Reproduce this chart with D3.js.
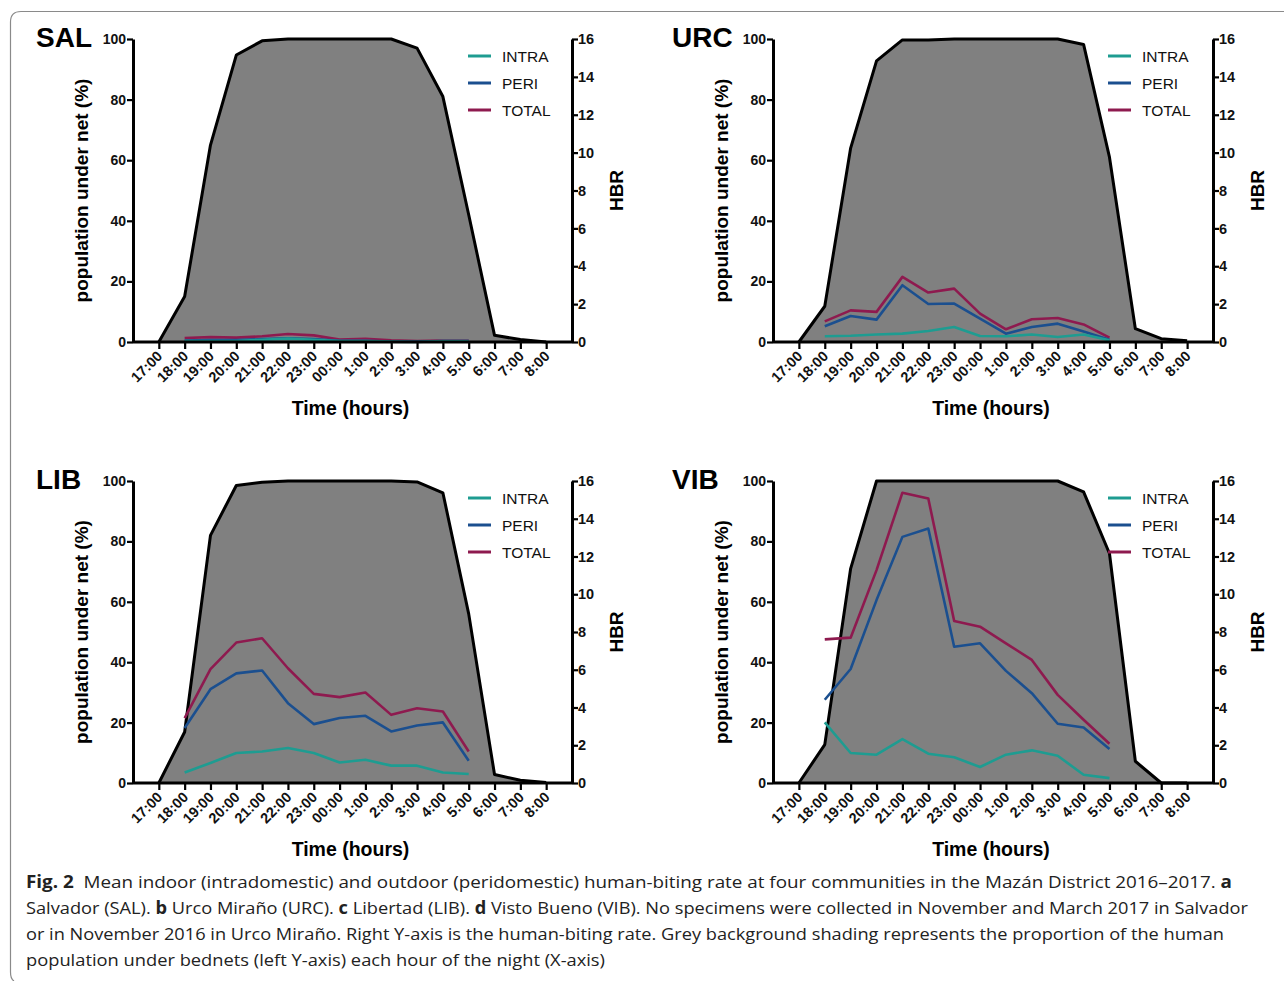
<!DOCTYPE html>
<html>
<head>
<meta charset="utf-8">
<script src="https://cdn.jsdelivr.net/npm/d3@7"></script>
<style>
  body { margin: 0; background: #fff; }
  svg { display: block; }
</style>
</head>
<body>
<svg width="1284" height="981"></svg>
<script>
// Hour labels on the x axis (17:00 -> 8:00)
const hours = ["17:00","18:00","19:00","20:00","21:00","22:00","23:00","00:00",
               "1:00","2:00","3:00","4:00","5:00","6:00","7:00","8:00"];

// population under net (%) for each hour
const netSAL = [0, 15, 65, 94.7, 99.4, 100, 100, 100, 100, 100, 97, 81, 42, 2.2, 0.8, 0];
const netURC = [0, 11.8, 64, 92.8, 99.7, 99.7, 100, 100, 100, 100, 100, 98.2, 61, 4.4, 1.1, 0.4];
const netLIB = [0, 16.9, 82, 98.5, 99.6, 100, 100, 100, 100, 100, 99.7, 96.1, 56, 2.8, 0.9, 0.2];
const netVIB = [0, 12.7, 71, 100, 100, 100, 100, 100, 100, 100, 100, 96.4, 76, 7.2, 0, 0];

// human-biting rate, 18:00 -> 5:00
const intraSAL = [0.05, 0.05, 0.05, 0.12, 0.18, 0.12, 0.05, 0.05, 0.02, 0.0, 0.05, 0.05];
const periSAL  = [0.08, 0.1, 0.1, 0.15, 0.2, 0.15, 0.06, 0.06, 0.03, 0.02, 0.05, 0.05];
const totalSAL = [0.21, 0.26, 0.23, 0.3, 0.42, 0.35, 0.13, 0.17, 0.09, 0.05, 0.07, 0.07];

const intraURC = [0.3, 0.33, 0.4, 0.44, 0.58, 0.79, 0.32, 0.3, 0.4, 0.26, 0.4, 0.09];
const periURC  = [0.83, 1.37, 1.18, 3.0, 2.01, 2.03, 1.23, 0.44, 0.79, 0.97, 0.56, 0.12];
const totalURC = [1.09, 1.67, 1.59, 3.44, 2.61, 2.82, 1.5, 0.67, 1.2, 1.27, 0.93, 0.23];

const intraLIB = [0.56, 1.06, 1.59, 1.67, 1.85, 1.59, 1.09, 1.23, 0.92, 0.92, 0.56, 0.48];
const periLIB  = [2.91, 4.97, 5.81, 5.96, 4.23, 3.12, 3.44, 3.56, 2.73, 3.05, 3.21, 1.18];
const totalLIB = [3.44, 6.03, 7.44, 7.67, 6.08, 4.72, 4.55, 4.79, 3.61, 3.96, 3.79, 1.67];

const intraVIB = [3.21, 1.59, 1.5, 2.33, 1.55, 1.36, 0.85, 1.5, 1.73, 1.44, 0.44, 0.26];
const periVIB  = [4.41, 6.04, 9.69, 13.04, 13.48, 7.22, 7.4, 5.94, 4.76, 3.14, 2.94, 1.8];
const totalVIB = [7.61, 7.7, 11.28, 15.38, 15.07, 8.58, 8.28, 7.4, 6.52, 4.67, 3.35, 2.08];

const seriesNames = ["INTRA", "PERI", "TOTAL"];
const seriesColors = {INTRA: "#1e9c91", PERI: "#1b4f8f", TOTAL: "#8e1a4f"};

const panels = [
  {name: "SAL", titleX: 36,  left: 133, right: 572, top: 39, bottom: 342, net: netSAL, intra: intraSAL, peri: periSAL, total: totalSAL},
  {name: "URC", titleX: 672, left: 773, right: 1213, top: 39, bottom: 342, net: netURC, intra: intraURC, peri: periURC, total: totalURC},
  {name: "LIB", titleX: 36,  left: 133, right: 572, top: 481, bottom: 783, net: netLIB, intra: intraLIB, peri: periLIB, total: totalLIB},
  {name: "VIB", titleX: 672, left: 773, right: 1213, top: 481, bottom: 783, net: netVIB, intra: intraVIB, peri: periVIB, total: totalVIB}
];

const svg = d3.select("svg");
const font = "'Liberation Sans', Arial, sans-serif";

// frame around the figure
svg.append("path")
   .attr("d", "M1284,11.5 L21,11.5 Q10.5,11.5 10.5,22 L10.5,972 Q10.5,979 14,981")
   .attr("fill", "none")
   .attr("stroke", "#8a8a8a")
   .attr("stroke-width", 1.2);

panels.forEach(p => {
  const g = svg.append("g");

  const x = d3.scaleLinear().domain([-1, 16]).range([p.left, p.right]);
  const yNet = d3.scaleLinear().domain([0, 100]).range([p.bottom, p.top]);
  const yHbr = d3.scaleLinear().domain([0, 16]).range([p.bottom, p.top]);

  // grey bednet area
  const area = d3.area()
                 .x((d, i) => x(i))
                 .y0(p.bottom)
                 .y1(d => yNet(d));
  g.append("path")
   .datum(p.net)
   .attr("d", area)
   .attr("fill", "#808080");
  const topLine = d3.line().x((d, i) => x(i)).y(d => yNet(d));
  g.append("path")
   .datum(p.net)
   .attr("d", topLine)
   .attr("fill", "none")
   .attr("stroke", "#000")
   .attr("stroke-width", 3)
   .attr("stroke-linejoin", "round");

  // HBR lines
  const line = d3.line().x((d, i) => x(i + 1)).y(d => yHbr(d));
  [["TOTAL", p.total], ["PERI", p.peri], ["INTRA", p.intra]].forEach(([key, vals]) => {
    g.append("path")
     .datum(vals)
     .attr("d", line)
     .attr("fill", "none")
     .attr("stroke", seriesColors[key])
     .attr("stroke-width", 2.6)
     .attr("stroke-linejoin", "round");
  });

  // axes
  const xAxis = d3.axisBottom(x)
                  .tickValues(d3.range(0, 16))
                  .tickFormat(i => hours[i])
                  .tickSize(7)
                  .tickSizeOuter(0);
  const gx = g.append("g")
              .attr("transform", `translate(0,${p.bottom})`)
              .call(xAxis);
  gx.select(".domain").attr("stroke-width", 3).attr("d", `M${p.left},0H${p.right}`);
  gx.selectAll(".tick line").attr("stroke-width", 2.2);
  gx.selectAll(".tick text")
    .attr("font-family", font)
    .attr("font-weight", "bold")
    .attr("font-size", 14.5)
    .attr("fill", "#111")
    .attr("text-anchor", "end")
    .attr("dy", null)
    .attr("y", 0)
    .attr("transform", "translate(4,15) rotate(-45)");

  const yAxisL = d3.axisLeft(yNet).tickValues([0, 20, 40, 60, 80, 100]).tickSize(6).tickSizeOuter(0);
  const gyl = g.append("g").attr("transform", `translate(${p.left},0)`).call(yAxisL);
  gyl.select(".domain").attr("stroke-width", 3);
  gyl.selectAll(".tick line").attr("stroke-width", 2.2);
  gyl.selectAll(".tick text")
     .attr("font-family", font).attr("font-weight", "bold").attr("font-size", 14).attr("fill", "#111")
     .attr("x", -7);

  const yAxisR = d3.axisRight(yHbr).tickValues(d3.range(0, 17, 2)).tickSize(6).tickSizeOuter(0);
  const gyr = g.append("g").attr("transform", `translate(${p.right},0)`).call(yAxisR);
  gyr.select(".domain").attr("stroke-width", 3);
  gyr.selectAll(".tick line").attr("stroke-width", 2.2);
  gyr.selectAll(".tick text")
     .attr("font-family", font).attr("font-weight", "bold").attr("font-size", 14.5).attr("fill", "#111")
     .attr("x", 6);

  // panel title
  g.append("text")
   .attr("x", p.titleX)
   .attr("y", p.top + 8)
   .attr("font-family", font)
   .attr("font-weight", "bold")
   .attr("font-size", 28)
   .text(p.name);

  // axis titles
  const midY = (p.top + p.bottom) / 2;
  g.append("text")
   .attr("transform", `translate(${p.left - 45},${midY}) rotate(-90)`)
   .attr("text-anchor", "middle")
   .attr("font-family", font)
   .attr("font-weight", "bold")
   .attr("font-size", 19)
   .text("population under net (%)");
  g.append("text")
   .attr("transform", `translate(${p.right + 51},${midY}) rotate(-90)`)
   .attr("text-anchor", "middle")
   .attr("font-family", font)
   .attr("font-weight", "bold")
   .attr("font-size", 19)
   .text("HBR");
  g.append("text")
   .attr("x", (p.left + p.right) / 2 - 2)
   .attr("y", p.bottom + 73)
   .attr("text-anchor", "middle")
   .attr("font-family", font)
   .attr("font-weight", "bold")
   .attr("font-size", 19.5)
   .text("Time (hours)");

  // legend
  const lg = g.append("g").attr("transform", `translate(${p.left + 335},${p.top + 17})`);
  seriesNames.forEach((s, i) => {
    lg.append("line")
      .attr("x1", 0).attr("x2", 23)
      .attr("y1", i * 27).attr("y2", i * 27)
      .attr("stroke", seriesColors[s])
      .attr("stroke-width", 3);
    lg.append("text")
      .attr("x", 34).attr("y", i * 27 + 5.5)
      .attr("font-family", font)
      .attr("font-size", 15.5)
      .attr("fill", "#111")
      .text(s);
  });
});

// caption
const captionLines = [
  {y: 888, len: 1206, parts: [["Fig. 2", true], ["  Mean indoor (intradomestic) and outdoor (peridomestic) human-biting rate at four communities in the Mazán District 2016–2017. ", false], ["a", true]]},
  {y: 914, len: 1222, parts: [["Salvador (SAL). ", false], ["b", true], [" Urco Miraño (URC). ", false], ["c", true], [" Libertad (LIB). ", false], ["d", true], [" Visto Bueno (VIB). No specimens were collected in November and March 2017 in Salvador", false]]},
  {y: 940, len: 1198, parts: [["or in November 2016 in Urco Miraño. Right Y-axis is the human-biting rate. Grey background shading represents the proportion of the human", false]]},
  {y: 966, len: 579, parts: [["population under bednets (left Y-axis) each hour of the night (X-axis)", false]]}
];
captionLines.forEach(c => {
  const t = svg.append("text")
               .attr("x", 26)
               .attr("y", c.y)
               .attr("font-family", "'Open Sans', 'Noto Sans', sans-serif")
               .attr("font-size", 17)
               .attr("fill", "#222")
               .attr("textLength", c.len)
               .attr("lengthAdjust", "spacingAndGlyphs")
               .style("white-space", "pre");
  c.parts.forEach(([txt, bold]) => {
    t.append("tspan")
     .attr("font-weight", bold ? "bold" : "normal")
     .text(txt);
  });
});
</script>
</body>
</html>
